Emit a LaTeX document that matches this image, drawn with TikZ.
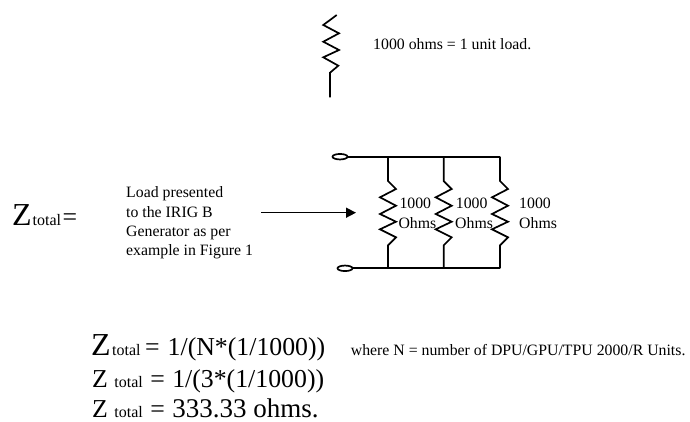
\documentclass[tikz,border=0pt]{standalone}
\usepackage{fontspec}
\setmainfont{Liberation Serif}
\usetikzlibrary{arrows.meta,shapes.geometric}
\tikzset{
  wire/.style={line width=1.7pt,line join=miter,line cap=butt},
  lbl/.style={inner sep=0pt,anchor=base west,font=\fontsize{15.8}{18}\selectfont},
  big/.style={inner sep=0pt,anchor=base west,font=\fontsize{25.8}{28}\selectfont},
  term/.style={ellipse,draw,line width=1.7pt,minimum width=15pt,minimum height=5.5pt,inner sep=0pt}
}
\newcommand{\zbig}{{\fontsize{32}{32}\selectfont Z}}
\newcommand{\tsub}[1]{{\fontsize{16}{18}\selectfont #1}}
\newcommand{\rleg}[1]{%
  \draw[wire] (#1,156.7) -- (#1,181) -- ++(8,8) -- ++(-16,8.3) -- ++(16,8.4) -- ++(-16,8.3) -- ++(16,7.7) -- ++(-16,7.6) -- ++(16,8) -- ++(-8,8) -- (#1,268.3);}
\begin{document}
\begin{tikzpicture}[x=1pt,y=-1pt]
\useasboundingbox (0,0) rectangle (690,421);
% single resistor
\coordinate (r0) at (330,97.3);
\draw[wire] (336.7,15) -- (323.3,25) -- (339,33.3) -- (323.3,41.7) -- (339,50) -- (323.3,57.3) -- (338.3,65.7) -- (330,72.7) -- (r0);
\node[lbl] (unit) at (373,49.3) {1000 ohms = 1 unit load.};
% circuit
\node[term] (t1) at (340,156.7) {};
\node[term] (t2) at (345,268.3) {};
\coordinate (tr) at (500,156.7);
\coordinate (br) at (500,268.3);
\draw[wire] (t1.east) -- (tr);
\draw[wire] (t2.east) -- (br);
\rleg{388}
\rleg{443.7}
\rleg{500}
\node[lbl] (a1) at (399.3,208.3) {1000};
\node[lbl] (a2) at (398.3,228.3) {Ohms};
\node[lbl] (b1) at (455.7,208.3) {1000};
\node[lbl] (b2) at (455,228.3) {Ohms};
\node[lbl] (c1) at (519,208.3) {1000};
\node[lbl] (c2) at (519,228.3) {Ohms};
% arrow
\coordinate (as) at (261,212.7);
\coordinate (ae) at (356,212.7);
\draw[line width=1.5pt,-{Triangle[length=10pt,width=10pt]}] (as) -- (ae);
% left
\node[big] (zt) at (12,225) {\zbig\kern1pt\tsub{total}\kern1.5pt=};
\node[lbl] (l1) at (126,197.3) {Load presented};
\node[lbl] (l2) at (126,217) {to the IRIG B};
\node[lbl] (l3) at (126,236) {Generator as per};
\node[lbl] (l4) at (126,255) {example in Figure 1};
% formulas
\node[big] (f1) at (91,355) {\zbig\kern1.5pt\tsub{total}\kern4.5pt=\kern1.5pt\ 1/(N*(1/1000))};
\node[lbl] (w) at (350.7,355.5) {where N = number of DPU/GPU/TPU 2000/R Units.};
\node[big] (f2) at (92,387.5) {Z \tsub{total}\kern1pt\ =\kern1pt\ 1/(3*(1/1000))};
\node[big] (f3) at (92,417.5) {Z \tsub{total}\kern1pt\ =\kern1pt\ {\fontsize{27}{28}\selectfont 333.33 ohms.}};
\end{tikzpicture}
\end{document}
